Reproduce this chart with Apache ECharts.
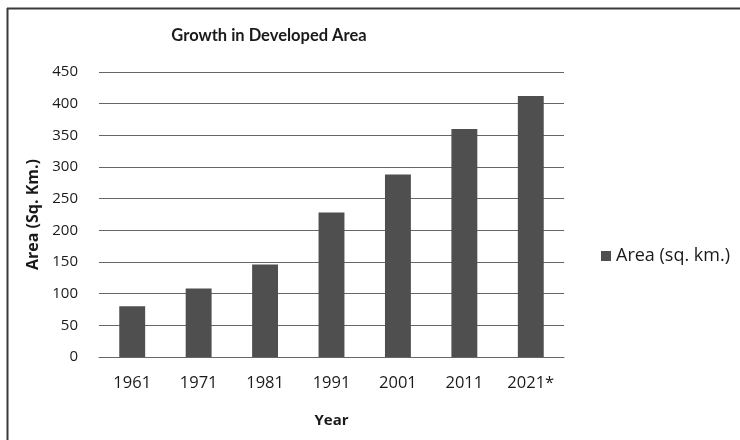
<!DOCTYPE html>
<html>
<head>
<meta charset="utf-8">
<script src="https://cdn.jsdelivr.net/npm/echarts@6/dist/echarts.min.js"></script>
<style>
  html, body { margin: 0; padding: 0; background: #ffffff; }
  #chart { width: 740px; height: 440px; }
</style>
</head>
<body>
<div id="chart"></div>
<script>
// Census years and developed area (sq. km.)
const years = ['1961', '1971', '1981', '1991', '2001', '2011', '2021*'];
const areaValues = [80, 108, 146, 228, 288, 360, 412];
const seriesName = 'Area (sq. km.)';

const TITLE_FONT = 'Lato, "Open Sans", sans-serif';
const FONT = '"Open Sans", Lato, sans-serif';
const INK = '#1a1a1a';
const chart = echarts.init(document.getElementById('chart'), null, { renderer: 'canvas' });

chart.setOption({
  backgroundColor: '#ffffff',
  animation: false,
  textStyle: { fontFamily: FONT },
  title: {
    text: 'Growth in Developed Area',
    left: 264,
    top: 22,
    textAlign: 'center',
    textStyle: { fontFamily: TITLE_FONT, fontSize: 16.5, fontWeight: 'bold', color: INK }
  },
  legend: {
    data: [seriesName],
    left: 596,
    top: 242,
    icon: 'rect',
    itemWidth: 10,
    itemHeight: 10,
    itemGap: 6,
    textStyle: { fontFamily: FONT, fontSize: 18, color: INK }
  },
  grid: { left: 99, right: 176, top: 72, bottom: 83 },
  xAxis: {
    type: 'category',
    data: years,
    name: 'Year',
    nameLocation: 'middle',
    nameGap: 56,
    nameTextStyle: { fontFamily: FONT, fontSize: 15, fontWeight: 'bold', color: INK },
    axisLine: { show: true, lineStyle: { color: '#666666', width: 1 } },
    axisTick: { show: false },
    axisLabel: { fontFamily: FONT, fontSize: 16.5, color: INK, margin: 18 }
  },
  yAxis: {
    type: 'value',
    min: 0,
    max: 450,
    interval: 50,
    name: 'Area (Sq. Km.)',
    nameLocation: 'middle',
    nameRotate: 90,
    nameGap: 55,
    nameTextStyle: { fontFamily: FONT, fontSize: 16, fontWeight: 'bold', color: INK },
    axisLine: { show: false },
    axisTick: { show: false },
    axisLabel: { fontFamily: FONT, fontSize: 15, color: INK, margin: 21 },
    splitLine: { show: true, lineStyle: { color: '#666666', width: 1 } }
  },
  series: [{
    name: seriesName,
    type: 'bar',
    data: areaValues,
    barCategoryGap: '61%',
    itemStyle: { color: '#4f4f4f' }
  }],
  graphic: [
    { type: 'line', shape: { x1: 7, y1: 8.5, x2: 740, y2: 8.5 }, style: { stroke: '#3a3a3a', lineWidth: 2 } },
    { type: 'line', shape: { x1: 7.5, y1: 8, x2: 7.5, y2: 440 }, style: { stroke: '#3a3a3a', lineWidth: 2 } }
  ]
});
</script>
</body>
</html>
